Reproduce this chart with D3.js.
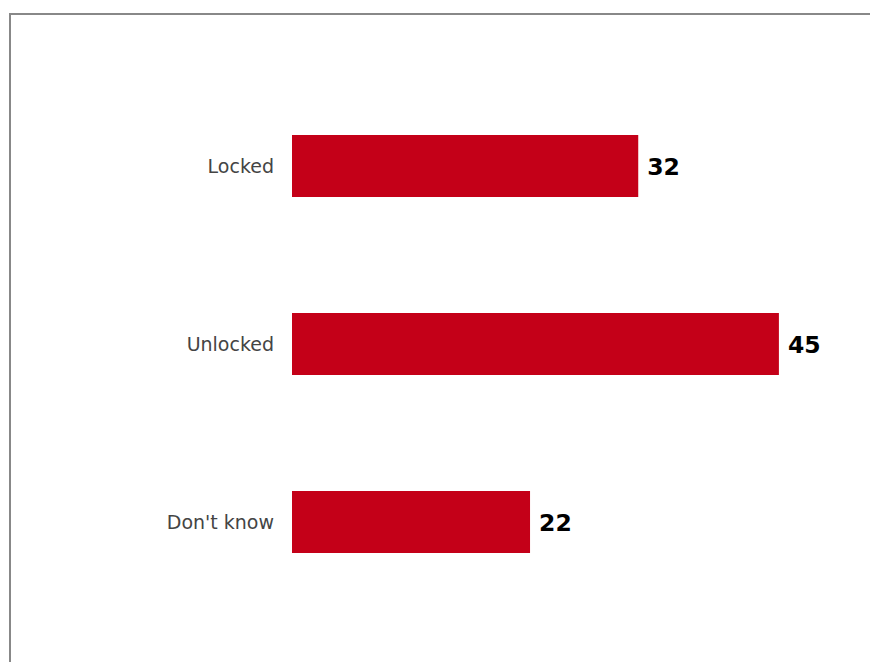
<!DOCTYPE html>
<html>
<head>
<meta charset="utf-8">
<script src="https://cdn.jsdelivr.net/npm/d3@7"></script>
<style>
  html, body { margin: 0; padding: 0; background: #fff; }
  svg { display: block; }
</style>
</head>
<body>
<svg id="chart" width="870" height="662"></svg>
<script>
// Survey responses
const categories = ["Locked", "Unlocked", "Don't know"];
const values = [32, 45, 22];

const svg = d3.select("#chart");
const width = 870, height = 662;

// Frame: top and left edges of the panel
svg.append("line")
  .attr("x1", 9).attr("x2", width).attr("y1", 14).attr("y2", 14)
  .attr("stroke", "#888").attr("stroke-width", 2);
svg.append("line")
  .attr("x1", 10).attr("x2", 10).attr("y1", 13).attr("y2", height)
  .attr("stroke", "#888").attr("stroke-width", 2);

const y = d3.scaleBand()
  .domain(categories)
  .range([19, 669])
  .paddingInner(0.6517)
  .paddingOuter(0.6517);

const x = d3.scaleLinear()
  .domain([0, 50])
  .range([292, 833]);

const rows = svg.append("g").selectAll("g")
  .data(categories.map((c, i) => ({ cat: c, val: values[i] })))
  .join("g");

rows.append("rect")
  .attr("x", x(0))
  .attr("y", d => y(d.cat))
  .attr("width", d => x(d.val) - x(0))
  .attr("height", y.bandwidth())
  .attr("fill", "#c40018");

rows.append("text")
  .attr("x", x(0) - 18)
  .attr("y", d => y(d.cat) + y.bandwidth() / 2)
  .attr("dy", "0.35em")
  .attr("text-anchor", "end")
  .attr("font-family", "DejaVu Sans")
  .attr("font-size", 19)
  .attr("fill", "#444")
  .text(d => d.cat);

rows.append("text")
  .attr("x", d => x(d.val) + 9)
  .attr("y", d => y(d.cat) + y.bandwidth() / 2 + 1)
  .attr("dy", "0.35em")
  .attr("font-family", "DejaVu Sans")
  .attr("font-weight", "bold")
  .attr("font-size", 23.5)
  .attr("fill", "#000")
  .text(d => d.val);
</script>
</body>
</html>
